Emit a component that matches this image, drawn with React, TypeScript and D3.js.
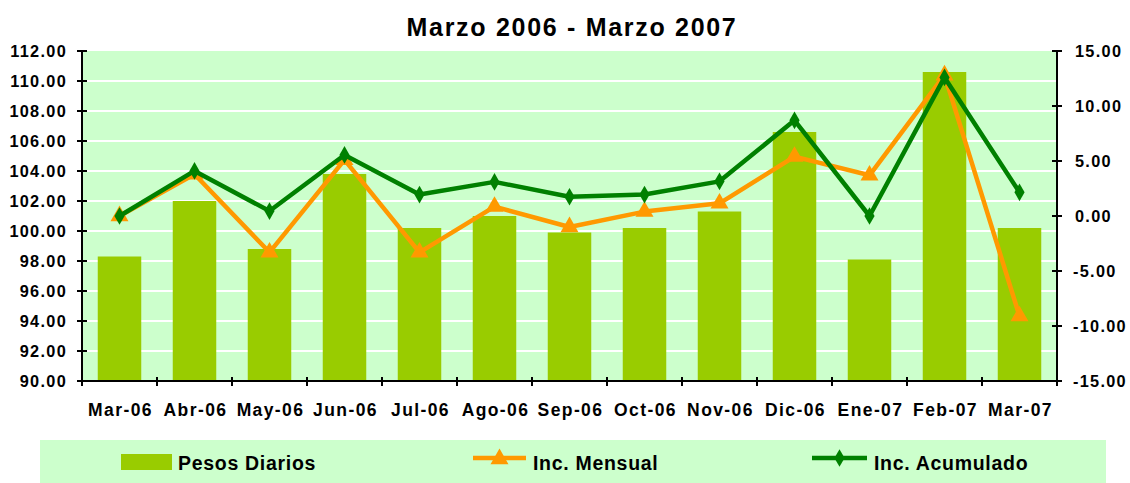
import React from 'react';
import * as d3 from 'd3';

const months = ['Mar-06', 'Abr-06', 'May-06', 'Jun-06', 'Jul-06', 'Ago-06', 'Sep-06', 'Oct-06', 'Nov-06', 'Dic-06', 'Ene-07', 'Feb-07', 'Mar-07'];
const pesosDiarios = [98.3, 102.0, 98.8, 103.8, 100.2, 101.0, 99.9, 100.2, 101.3, 106.6, 98.1, 110.6, 100.2];
const incMensual = [0.0, 3.8, -3.3, 5.1, -3.3, 0.85, -1.0, 0.4, 1.15, 5.4, 3.7, 12.8, -9.1];
const incAcumulado = [0.0, 4.1, 0.45, 5.55, 1.95, 3.1, 1.75, 1.95, 3.15, 8.7, 0.0, 12.6, 2.15];
const leftTicks = [90, 92, 94, 96, 98, 100, 102, 104, 106, 108, 110, 112];
const rightTicks = [-15, -10, -5, 0, 5, 10, 15];

const W = 1130;
const H = 483;
const m = { left: 82, right: 1057, top: 51, bottom: 381 };
const font = '"Liberation Sans", Arial, sans-serif';

export default function App() {
  const x = d3.scaleBand().domain(months).range([m.left, m.right]).paddingInner(0.42).paddingOuter(0.21);
  const step = x.step();
  const yL = d3.scaleLinear().domain([90, 112]).range([m.bottom, m.top]);
  const yR = d3.scaleLinear().domain([-15, 15]).range([m.bottom, m.top]);
  const cx = (d: string) => (x(d) as number) + x.bandwidth() / 2;

  const line = d3.line<number>().x((_, i) => cx(months[i])).y((d) => yR(d));
  const tri = d3.symbol().type(d3.symbolTriangle).size(140)();
  const dia = d3.symbol().type(d3.symbolDiamond).size(90)();
  const boundaries = d3.range(months.length + 1).map((i) => m.left + i * step);

  return (
    <svg width={W} height={H} style={{ position: 'absolute', left: 0, top: 0, background: '#fff' }} fontFamily={font} fontWeight="bold">
      <text x={572} y={36} textAnchor="middle" fontSize={25} letterSpacing={1.7}>Marzo 2006 - Marzo 2007</text>

      <rect x={m.left} y={m.top} width={m.right - m.left} height={m.bottom - m.top} fill="#CCFFCC" />
      {leftTicks.slice(1, -1).map((t) => (
        <line key={t} x1={m.left} x2={m.right} y1={yL(t)} y2={yL(t)} stroke="#fff" strokeWidth={2} />
      ))}

      {pesosDiarios.map((v, i) => (
        <rect key={i} x={x(months[i])} y={yL(v)} width={x.bandwidth()} height={m.bottom - yL(v)} fill="#99CC00" />
      ))}

      <path d={line(incMensual) || ''} fill="none" stroke="#FF9900" strokeWidth={4.5} strokeLinejoin="round" />
      {incMensual.map((v, i) => (
        <path key={i} d={tri || ''} transform={`translate(${cx(months[i])},${yR(v)})`} fill="#FF9900" />
      ))}
      <path d={line(incAcumulado) || ''} fill="none" stroke="#008000" strokeWidth={4.5} strokeLinejoin="round" />
      {incAcumulado.map((v, i) => (
        <path key={i} d={dia || ''} transform={`translate(${cx(months[i])},${yR(v)})`} fill="#008000" />
      ))}

      {/* axes */}
      <g stroke="#000" strokeWidth={2}>
        <line x1={m.left} x2={m.left} y1={m.top} y2={m.bottom} />
        <line x1={m.right} x2={m.right} y1={m.top} y2={m.bottom} />
        <line x1={m.left} x2={m.right} y1={m.bottom} y2={m.bottom} />
        {leftTicks.map((t) => (
          <line key={t} x1={m.left - 5} x2={m.left + 5} y1={yL(t)} y2={yL(t)} />
        ))}
        {rightTicks.map((t) => (
          <line key={t} x1={m.right - 5} x2={m.right + 5} y1={yR(t)} y2={yR(t)} />
        ))}
        {boundaries.map((b, i) => (
          <line key={i} x1={b} x2={b} y1={m.bottom - 4} y2={m.bottom + 5} />
        ))}
      </g>
      {leftTicks.map((t) => (
        <text key={t} x={67} y={yL(t)} dy="0.36em" textAnchor="end" fontSize={16.3} letterSpacing={1.3}>{t.toFixed(2)}</text>
      ))}
      {rightTicks.map((t) => (
        <text key={t} x={t < 0 ? 1073 : 1075} y={yR(t)} dy="0.36em" textAnchor="start" fontSize={16.3} letterSpacing={1.3}>{t.toFixed(2)}</text>
      ))}
      {months.map((d) => (
        <text key={d} x={cx(d) + 1} y={416} textAnchor="middle" fontSize={17.5} letterSpacing={1.4}>{d}</text>
      ))}

      {/* legend */}
      <rect x={40} y={440} width={1066} height={43} fill="#CCFFCC" />
      <rect x={121} y={454} width={51} height={16} fill="#99CC00" />
      <text x={178} y={470} fontSize={19.5} letterSpacing={0.7}>Pesos Diarios</text>
      <line x1={473} x2={526} y1={458} y2={458} stroke="#FF9900" strokeWidth={4.5} />
      <path d={tri || ''} transform="translate(499.5,459)" fill="#FF9900" />
      <text x={533} y={470} fontSize={19.5} letterSpacing={0.7}>Inc. Mensual</text>
      <line x1={812} x2={867} y1={458} y2={458} stroke="#008000" strokeWidth={4.5} />
      <path d={dia || ''} transform="translate(839.5,458)" fill="#008000" />
      <text x={874} y={470} fontSize={19.5} letterSpacing={0.7}>Inc. Acumulado</text>
    </svg>
  );
}
